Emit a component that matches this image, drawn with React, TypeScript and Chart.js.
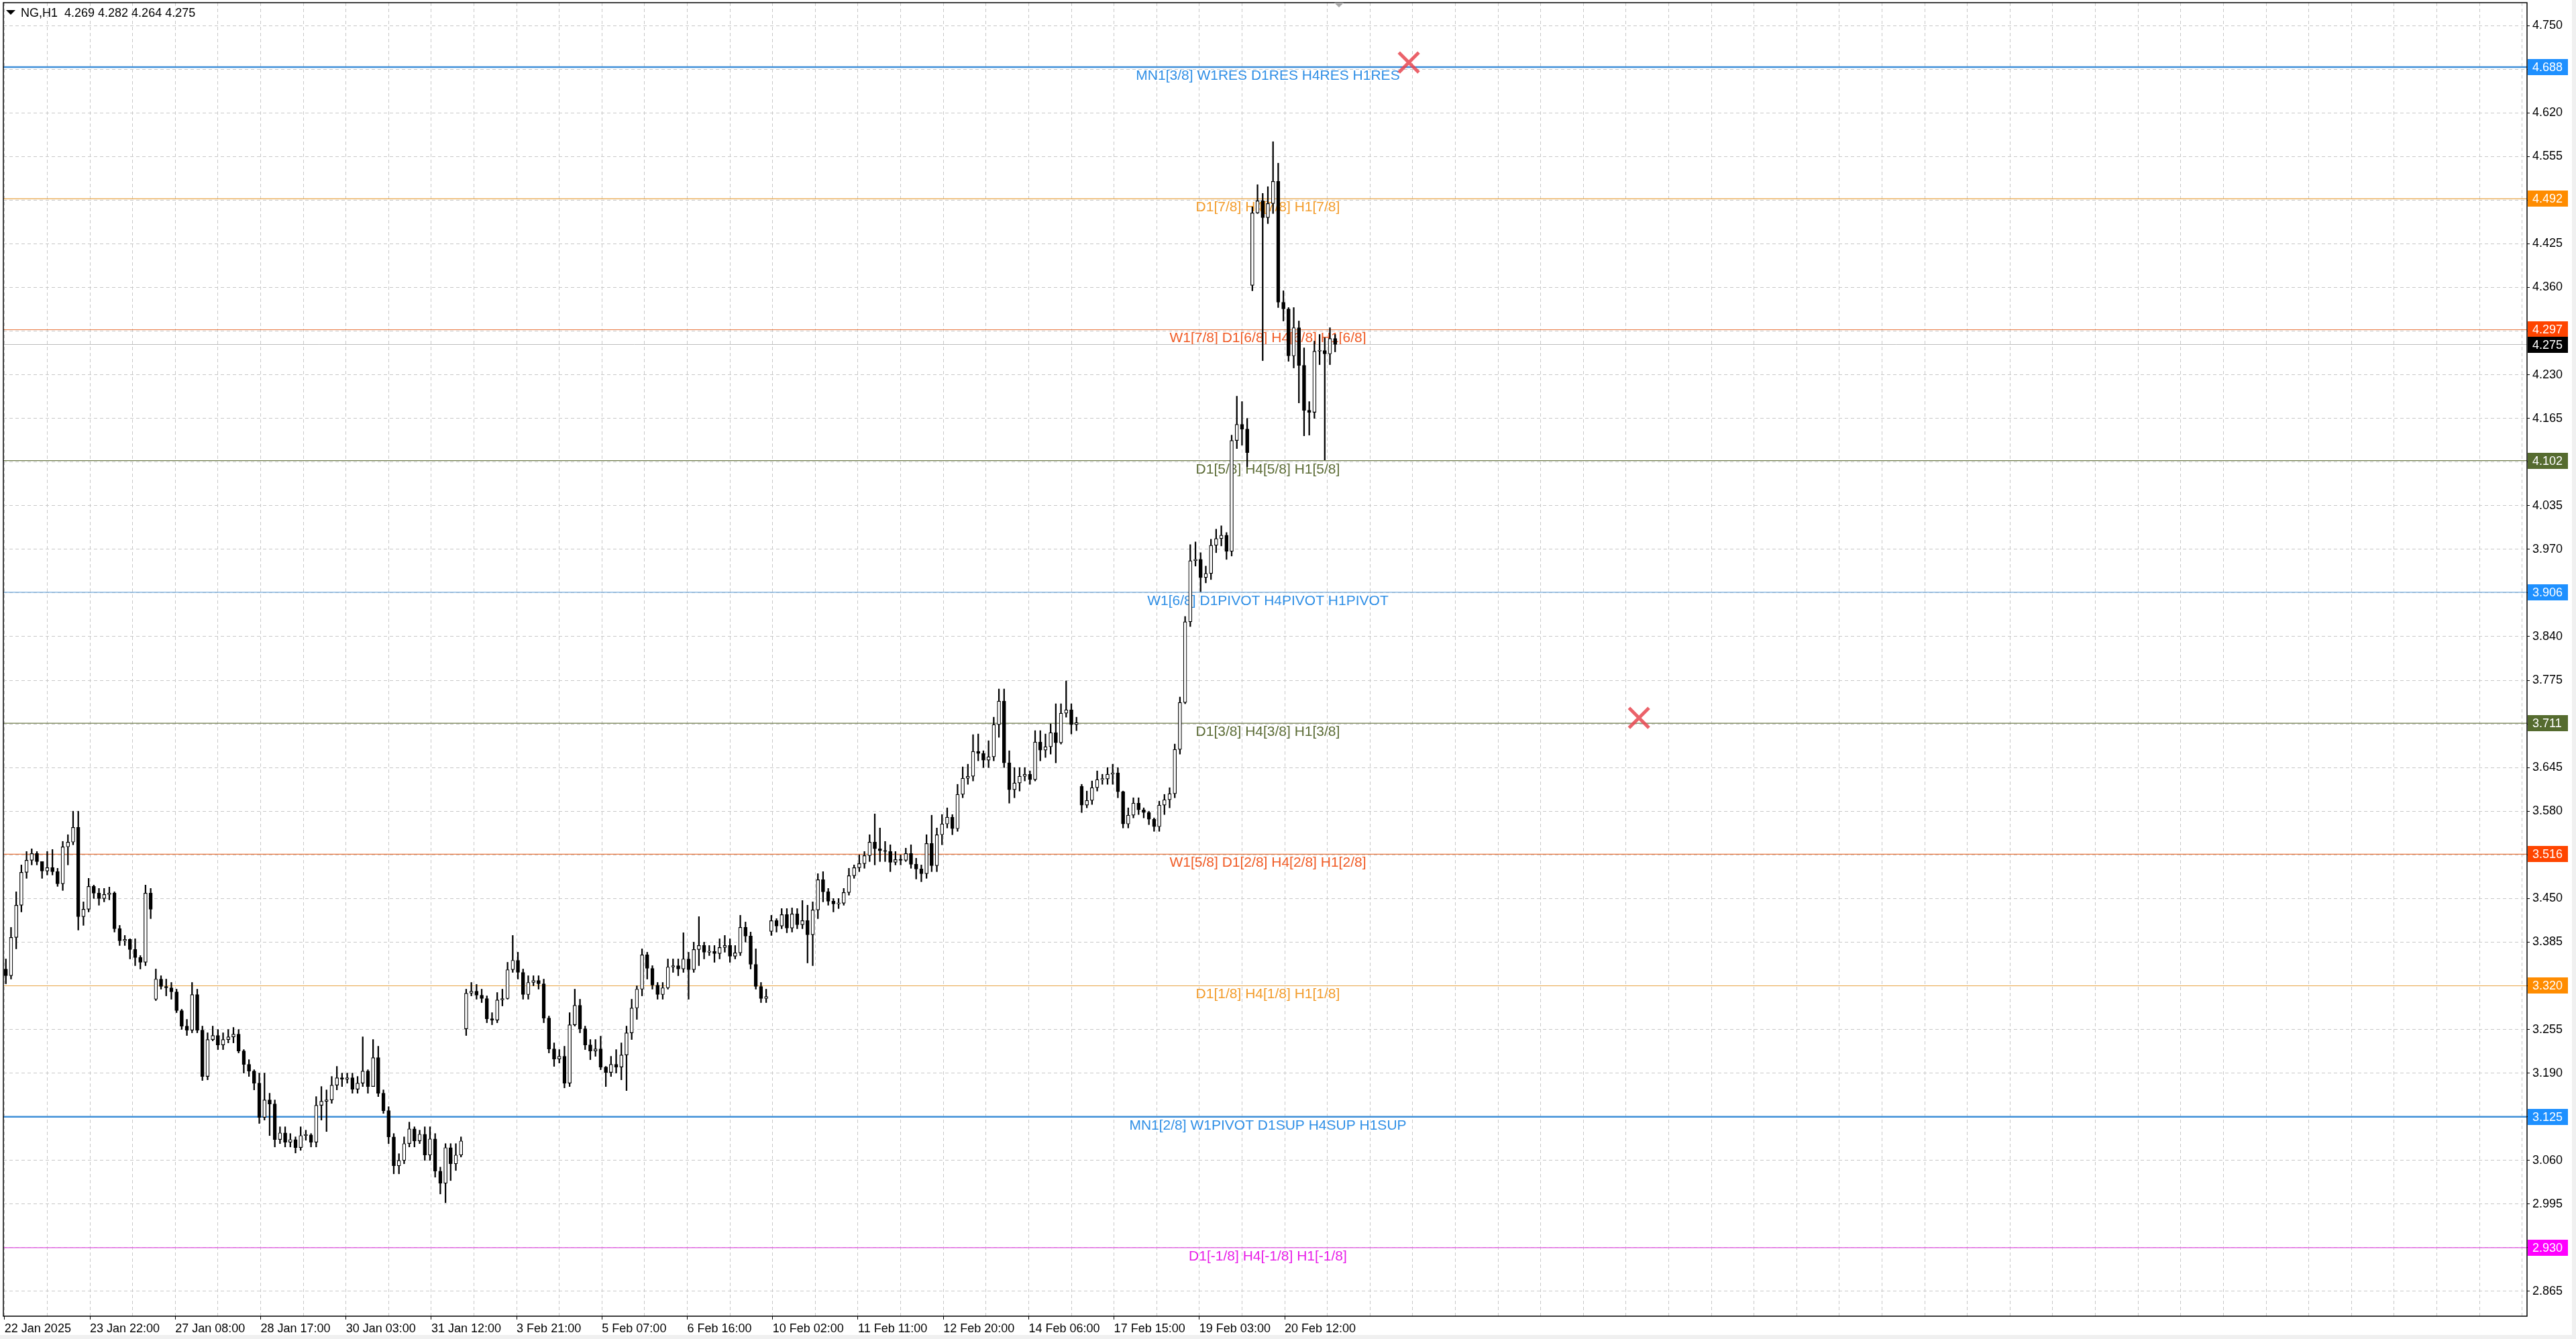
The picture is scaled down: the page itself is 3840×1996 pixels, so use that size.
import React, { useEffect, useRef } from "react";
import { Chart, registerables } from "chart.js";

Chart.register(...registerables);

// ---- Price data: 2-hour candles, NG H1 chart (22 Jan 2025 - 20 Feb 2025) ----
const opens = [
  3.345,3.335,3.392,3.440,3.489,3.507,3.517,3.505,3.491,3.496,
  3.490,3.472,3.527,3.534,3.556,3.423,3.434,3.468,3.458,3.450,
  3.456,3.458,3.405,3.387,3.389,3.374,3.362,3.355,3.458,3.300,
  3.330,3.319,3.317,3.311,3.283,3.260,3.254,3.307,3.254,3.185,
  3.240,3.246,3.232,3.240,3.244,3.248,3.223,3.203,3.193,3.175,
  3.124,3.150,3.144,3.091,3.101,3.087,3.091,3.079,3.097,3.098,
  3.087,3.142,3.148,3.150,3.172,3.183,3.181,3.183,3.166,3.175,
  3.193,3.170,3.213,3.160,3.134,3.095,3.052,3.060,3.085,3.107,
  3.089,3.099,3.068,3.092,3.044,3.026,3.079,3.055,3.068,3.256,
  3.309,3.312,3.306,3.301,3.271,3.269,3.299,3.301,3.344,3.358,
  3.340,3.307,3.325,3.328,3.323,3.272,3.226,3.211,3.215,3.175,
  3.262,3.291,3.256,3.232,3.223,3.226,3.199,3.191,3.203,3.199,
  3.217,3.250,3.287,3.315,3.366,3.346,3.321,3.307,3.317,3.348,
  3.350,3.345,3.360,3.344,3.374,3.380,3.370,3.371,3.368,3.377,
  3.380,3.364,3.369,3.407,3.394,3.352,3.319,3.301,3.401,3.417,
  3.409,3.426,3.406,3.427,3.411,3.417,3.396,3.433,3.478,3.460,
  3.446,3.442,3.443,3.459,3.484,3.496,3.502,3.514,3.534,3.524,
  3.521,3.520,3.504,3.508,3.507,3.517,3.501,3.494,3.487,3.532,
  3.499,3.545,3.561,3.571,3.554,3.605,3.629,3.632,3.669,3.666,
  3.656,3.661,3.709,3.744,3.652,3.612,3.622,3.632,3.635,3.627,
  3.683,3.671,3.676,3.697,3.682,3.726,3.731,3.709,3.617,3.589,
  3.596,3.615,3.627,3.628,3.635,3.637,3.609,3.561,3.574,3.592,
  3.582,3.578,3.568,3.557,3.589,3.597,3.606,3.672,3.742,3.862,
  3.953,3.955,3.928,3.934,3.976,3.986,3.991,3.967,4.132,4.156,
  4.149,4.363,4.471,4.489,4.464,4.485,4.518,4.338,4.328,4.258,
  4.300,4.244,4.177,4.174,4.265,4.266,4.261,4.284,
];
const highs = [
  3.360,3.407,3.460,3.500,3.520,3.524,3.520,3.505,3.520,3.523,
  3.495,3.535,3.545,3.580,3.580,3.445,3.480,3.470,3.465,3.465,
  3.467,3.460,3.410,3.395,3.390,3.390,3.365,3.470,3.465,3.345,
  3.335,3.330,3.325,3.315,3.285,3.270,3.325,3.315,3.260,3.250,
  3.260,3.255,3.250,3.255,3.258,3.255,3.225,3.210,3.195,3.190,
  3.190,3.160,3.150,3.110,3.110,3.100,3.095,3.110,3.105,3.100,
  3.155,3.170,3.165,3.185,3.200,3.190,3.190,3.190,3.185,3.244,
  3.195,3.240,3.230,3.165,3.140,3.100,3.070,3.095,3.117,3.110,
  3.105,3.110,3.110,3.100,3.050,3.085,3.085,3.085,3.095,3.315,
  3.325,3.322,3.315,3.305,3.280,3.310,3.315,3.355,3.395,3.370,
  3.345,3.335,3.335,3.335,3.330,3.275,3.235,3.225,3.230,3.280,
  3.315,3.300,3.260,3.240,3.240,3.245,3.200,3.215,3.225,3.235,
  3.260,3.300,3.320,3.375,3.370,3.350,3.325,3.325,3.360,3.360,
  3.360,3.399,3.370,3.385,3.423,3.385,3.380,3.380,3.390,3.395,
  3.390,3.380,3.425,3.415,3.400,3.375,3.325,3.315,3.425,3.420,
  3.435,3.435,3.436,3.435,3.447,3.440,3.445,3.487,3.490,3.465,
  3.450,3.450,3.465,3.495,3.500,3.515,3.520,3.545,3.576,3.555,
  3.535,3.530,3.520,3.515,3.525,3.530,3.510,3.500,3.545,3.574,
  3.555,3.575,3.585,3.575,3.620,3.646,3.650,3.694,3.695,3.670,
  3.685,3.720,3.762,3.762,3.670,3.645,3.645,3.645,3.640,3.700,
  3.700,3.695,3.710,3.740,3.740,3.774,3.740,3.720,3.620,3.610,
  3.625,3.640,3.635,3.645,3.650,3.645,3.610,3.585,3.600,3.600,
  3.585,3.580,3.570,3.595,3.605,3.615,3.680,3.750,3.870,3.977,
  3.981,3.965,3.945,3.985,4.000,4.005,3.995,4.140,4.198,4.190,
  4.165,4.480,4.513,4.500,4.510,4.577,4.545,4.355,4.330,4.330,
  4.310,4.270,4.190,4.280,4.290,4.285,4.300,4.290,
];
const lows = [
  3.323,3.330,3.375,3.430,3.480,3.500,3.500,3.480,3.485,3.485,
  3.468,3.462,3.500,3.530,3.403,3.410,3.430,3.450,3.440,3.445,
  3.448,3.400,3.380,3.380,3.360,3.350,3.345,3.350,3.420,3.298,
  3.315,3.305,3.300,3.280,3.255,3.246,3.250,3.250,3.179,3.180,
  3.238,3.225,3.225,3.235,3.235,3.220,3.190,3.185,3.165,3.115,
  3.120,3.097,3.080,3.085,3.080,3.080,3.071,3.075,3.090,3.080,
  3.080,3.120,3.103,3.145,3.165,3.170,3.175,3.160,3.160,3.170,
  3.160,3.170,3.155,3.130,3.085,3.040,3.040,3.055,3.080,3.080,
  3.085,3.060,3.060,3.035,3.010,2.997,3.030,3.045,3.065,3.246,
  3.305,3.300,3.295,3.265,3.262,3.265,3.290,3.300,3.340,3.330,
  3.300,3.300,3.320,3.315,3.265,3.220,3.200,3.205,3.168,3.170,
  3.260,3.250,3.225,3.210,3.215,3.195,3.170,3.185,3.190,3.180,
  3.164,3.240,3.270,3.305,3.330,3.315,3.300,3.300,3.315,3.340,
  3.335,3.340,3.300,3.340,3.350,3.360,3.365,3.355,3.360,3.370,
  3.355,3.360,3.365,3.385,3.345,3.315,3.295,3.295,3.395,3.400,
  3.405,3.399,3.400,3.405,3.405,3.354,3.350,3.420,3.445,3.440,
  3.430,3.435,3.440,3.455,3.480,3.490,3.495,3.505,3.500,3.505,
  3.505,3.490,3.500,3.500,3.505,3.495,3.479,3.475,3.480,3.490,
  3.490,3.530,3.555,3.545,3.550,3.600,3.620,3.625,3.655,3.645,
  3.645,3.655,3.690,3.645,3.592,3.600,3.610,3.625,3.620,3.625,
  3.655,3.660,3.665,3.652,3.680,3.720,3.695,3.700,3.578,3.585,
  3.590,3.610,3.620,3.620,3.620,3.600,3.555,3.555,3.570,3.575,
  3.570,3.560,3.550,3.550,3.575,3.585,3.600,3.665,3.740,3.855,
  3.945,3.907,3.920,3.925,3.965,3.975,3.955,3.960,4.120,4.125,
  4.093,4.355,4.470,4.251,4.455,4.470,4.330,4.310,4.250,4.240,
  4.188,4.139,4.140,4.165,4.245,4.103,4.245,4.264,
];
const closes = [
  3.335,3.392,3.440,3.489,3.507,3.517,3.505,3.491,3.496,3.490,
  3.472,3.527,3.534,3.556,3.423,3.434,3.468,3.458,3.450,3.456,
  3.458,3.405,3.387,3.389,3.374,3.362,3.355,3.458,3.434,3.330,
  3.319,3.317,3.311,3.283,3.260,3.254,3.307,3.254,3.185,3.240,
  3.246,3.232,3.240,3.244,3.248,3.223,3.203,3.193,3.175,3.124,
  3.150,3.144,3.091,3.101,3.087,3.091,3.079,3.097,3.098,3.087,
  3.142,3.148,3.150,3.172,3.183,3.181,3.183,3.166,3.175,3.193,
  3.170,3.213,3.160,3.134,3.095,3.052,3.060,3.085,3.107,3.089,
  3.099,3.068,3.092,3.044,3.026,3.079,3.055,3.068,3.089,3.309,
  3.312,3.306,3.301,3.271,3.269,3.299,3.301,3.344,3.358,3.340,
  3.307,3.325,3.328,3.323,3.272,3.226,3.211,3.215,3.175,3.262,
  3.291,3.256,3.232,3.223,3.226,3.199,3.191,3.203,3.199,3.217,
  3.250,3.287,3.315,3.366,3.346,3.321,3.307,3.317,3.348,3.350,
  3.345,3.360,3.344,3.374,3.380,3.370,3.371,3.368,3.377,3.380,
  3.364,3.369,3.407,3.394,3.352,3.319,3.301,3.304,3.417,3.409,
  3.426,3.406,3.427,3.411,3.417,3.396,3.433,3.478,3.460,3.446,
  3.442,3.443,3.459,3.484,3.496,3.502,3.514,3.534,3.524,3.521,
  3.520,3.504,3.508,3.507,3.517,3.501,3.494,3.487,3.532,3.499,
  3.545,3.561,3.571,3.554,3.605,3.629,3.632,3.669,3.666,3.656,
  3.661,3.709,3.744,3.652,3.612,3.622,3.632,3.635,3.627,3.683,
  3.671,3.676,3.697,3.682,3.726,3.731,3.709,3.712,3.589,3.596,
  3.615,3.627,3.628,3.635,3.637,3.609,3.561,3.574,3.592,3.582,
  3.578,3.568,3.557,3.589,3.597,3.606,3.672,3.742,3.862,3.953,
  3.955,3.928,3.934,3.976,3.986,3.991,3.967,4.132,4.156,4.149,
  4.114,4.471,4.489,4.464,4.485,4.518,4.338,4.328,4.258,4.300,
  4.244,4.177,4.174,4.265,4.266,4.261,4.284,4.275,
];

const HOURS_PER_BAR = 2;

// ---- Axis labels ----
const xLabels = [
  "22 Jan 2025", "23 Jan 22:00", "27 Jan 08:00", "28 Jan 17:00", "30 Jan 03:00",
  "31 Jan 12:00", "3 Feb 21:00", "5 Feb 07:00", "6 Feb 16:00", "10 Feb 02:00",
  "11 Feb 11:00", "12 Feb 20:00", "14 Feb 06:00", "17 Feb 15:00", "19 Feb 03:00",
  "20 Feb 12:00",
];
const X_GRID_STEP_HOURS = 16.5; // label every 2 grid steps (33 hours)

const yTicks = [
  2.865, 2.930, 2.995, 3.060, 3.125, 3.190, 3.255, 3.320, 3.385, 3.450,
  3.515, 3.580, 3.645, 3.710, 3.775, 3.840, 3.905, 3.970, 4.035, 4.100,
  4.165, 4.230, 4.295, 4.360, 4.425, 4.490, 4.555, 4.620, 4.685, 4.750,
];

// ---- Murrey-style levels ----
const levelValues = [4.688, 4.492, 4.297, 4.102, 3.906, 3.711, 3.516, 3.320, 3.125, 2.930];
const levelLabels = [
  "MN1[3/8] W1RES D1RES H4RES H1RES",
  "D1[7/8] H4[7/8] H1[7/8]",
  "W1[7/8] D1[6/8] H4[6/8] H1[6/8]",
  "D1[5/8] H4[5/8] H1[5/8]",
  "W1[6/8] D1PIVOT H4PIVOT H1PIVOT",
  "D1[3/8] H4[3/8] H1[3/8]",
  "W1[5/8] D1[2/8] H4[2/8] H1[2/8]",
  "D1[1/8] H4[1/8] H1[1/8]",
  "MN1[2/8] W1PIVOT D1SUP H4SUP H1SUP",
  "D1[-1/8] H4[-1/8] H1[-1/8]",
];
const levelLineColors = ["#3f8fd8", "#e8a546", "#e8773f", "#6e7b4a", "#6fa8dc", "#6e7b4a", "#e8773f", "#e8a546", "#3f8fd8", "#e050e0"];
const levelLineWidths = [2.5, 1.2, 1.2, 1.2, 1.2, 1.2, 1.2, 1.2, 2.5, 1.2];
const levelTextColors = ["#2f8fe6", "#f39c2b", "#f05a24", "#5b6b35", "#2f8fe6", "#5b6b35", "#f05a24", "#f39c2b", "#2f8fe6", "#e81ee8"];
const levelBoxColors = ["#1e90ff", "#ff8c00", "#ff4500", "#556b2f", "#1e90ff", "#556b2f", "#ff4500", "#ff8c00", "#1e90ff", "#ff00ff"];

const currentPrice = 4.275;
const headerText = "NG,H1  4.269 4.282 4.264 4.275";

// ---- Marker crosses ----
const markerHours = [543, 632];
const markerPrices = [4.695, 3.719];

// ---- View ----
const X_MIN = -0.47;
const X_MAX = 975.4;
const Y_MIN = 2.828;
const Y_MAX = 4.784;
const LEVEL_LABEL_HOUR = 488.5;

const FONT = "'Liberation Sans', Arial, sans-serif";

const overlayPlugin = {
  id: "mtOverlay",
  beforeDraw(chart: any) {
    const { ctx, width, height } = chart;
    ctx.save();
    ctx.fillStyle = "#ffffff";
    ctx.fillRect(0, 0, width, height);
    ctx.fillStyle = "#f0f0f0";
    ctx.fillRect(3834, 0, width - 3834, height);
    ctx.fillRect(0, 1990, width, height - 1990);
    ctx.restore();
  },
  beforeDatasetsDraw(chart: any) {
    const { ctx, scales } = chart;
    const x = scales.x;
    const y = scales.y;
    ctx.save();
    ctx.font = `21px ${FONT}`;
    ctx.textAlign = "center";
    ctx.textBaseline = "alphabetic";
    const cx = x.getPixelForValue(LEVEL_LABEL_HOUR);
    levelValues.forEach((v, i) => {
      ctx.fillStyle = levelTextColors[i];
      ctx.fillText(levelLabels[i], cx, y.getPixelForValue(v) + 19);
    });
    ctx.restore();
  },
  afterDraw(chart: any) {
    const { ctx, chartArea: a, scales } = chart;
    const x = scales.x;
    const y = scales.y;
    ctx.save();
    // frame
    ctx.strokeStyle = "#000";
    ctx.lineWidth = 1.5;
    ctx.strokeRect(a.left, a.top, a.right - a.left, a.bottom - a.top);
    // price boxes on right axis
    ctx.font = `18px ${FONT}`;
    ctx.textAlign = "left";
    ctx.textBaseline = "middle";
    const drawBox = (v: number, bg: string) => {
      const py = Math.round(y.getPixelForValue(v));
      ctx.fillStyle = bg;
      ctx.fillRect(a.right + 1, py - 12, 60, 24);
      ctx.fillStyle = "#ffffff";
      ctx.fillText(v.toFixed(3), a.right + 8, py + 1);
    };
    levelValues.forEach((v, i) => drawBox(v, levelBoxColors[i]));
    drawBox(currentPrice, "#000000");
    // header
    ctx.fillStyle = "#000";
    ctx.beginPath();
    ctx.moveTo(9, 15);
    ctx.lineTo(23, 15);
    ctx.lineTo(16, 22);
    ctx.closePath();
    ctx.fill();
    ctx.font = `18px ${FONT}`;
    ctx.textBaseline = "alphabetic";
    ctx.fillText(headerText, 31, 25);
    // chart shift marker
    const sx = x.getPixelForValue(closes.length * HOURS_PER_BAR);
    ctx.fillStyle = "#a8a8a8";
    ctx.beginPath();
    ctx.moveTo(sx - 7, a.top);
    ctx.lineTo(sx + 7, a.top);
    ctx.lineTo(sx, a.top + 7);
    ctx.closePath();
    ctx.fill();
    ctx.restore();
  },
};

export default function App() {
  const canvasRef = useRef<HTMLCanvasElement | null>(null);

  useEffect(() => {
    document.body.style.margin = "0";
    const canvas = canvasRef.current;
    if (!canvas) return;

    const barX = (i: number) => i * HOURS_PER_BAR + HOURS_PER_BAR / 4;

    const gridHours: number[] = [];
    for (let h = 0; h <= X_MAX; h += X_GRID_STEP_HOURS) gridHours.push(h);

    const levelDatasets = levelValues.map((v, i) => ({
      type: "line",
      data: [{ x: X_MIN, y: v }, { x: X_MAX, y: v }],
      borderColor: levelLineColors[i],
      borderWidth: levelLineWidths[i],
      pointRadius: 0,
      order: 10,
    }));

    const priceLine = {
      type: "line",
      data: [{ x: X_MIN, y: currentPrice }, { x: X_MAX, y: currentPrice }],
      borderColor: "#bdbdbd",
      borderWidth: 1,
      pointRadius: 0,
      order: 9,
    };

    const wicks = {
      type: "bar",
      data: closes.map((_, i) => ({ x: barX(i), y: [lows[i], highs[i]] })),
      backgroundColor: "#000000",
      borderWidth: 0,
      barThickness: 1.6,
      grouped: false,
      order: 3,
    };

    const bodies = {
      type: "bar",
      data: closes.map((c, i) => ({ x: barX(i), y: [opens[i], c] })),
      backgroundColor: closes.map((c, i) => (c >= opens[i] ? "#ffffff" : "#000000")),
      borderColor: "#000000",
      borderWidth: 1.2,
      borderSkipped: false,
      barThickness: 5,
      minBarLength: 1.5,
      grouped: false,
      order: 2,
    };

    const markers = {
      type: "scatter",
      data: markerHours.map((h, i) => ({ x: h, y: markerPrices[i] })),
      pointStyle: "crossRot",
      pointRadius: 21,
      pointBorderWidth: 5,
      pointBorderColor: "rgba(232,70,80,0.85)",
      pointBackgroundColor: "rgba(232,70,80,0.85)",
      borderColor: "rgba(232,70,80,0.85)",
      order: 0,
    };

    const chart = new Chart(canvas, {
      type: "bar",
      data: {
        datasets: [...levelDatasets, priceLine, wicks, bodies, markers] as any,
      },
      options: {
        animation: false,
        responsive: false,
        devicePixelRatio: 1,
        layout: { autoPadding: false, padding: { left: 5, top: 4, right: 0, bottom: 0 } },
        plugins: {
          legend: { display: false },
          tooltip: { enabled: false },
        },
        scales: {
          x: {
            type: "linear",
            min: X_MIN,
            max: X_MAX,
            offset: false,
            grid: {
              offset: false,
              color: "#c8c8c8",
              lineWidth: 1,
              tickLength: 5,
              tickColor: (ctx: any) =>
                ctx.index % 2 === 0 && ctx.index / 2 < xLabels.length ? "#000000" : "rgba(0,0,0,0)",
            },
            border: { display: false, dash: [5, 4] },
            ticks: {
              autoSkip: false,
              maxRotation: 0,
              minRotation: 0,
              align: "start",
              padding: 3,
              color: "#000000",
              font: { family: FONT, size: 18 },
              callback: (_v: any, index: number) =>
                index % 2 === 0 && index / 2 < xLabels.length ? xLabels[index / 2] : "",
            },
            afterBuildTicks: (scale: any) => {
              scale.ticks = gridHours.map((v) => ({ value: v }));
            },
            afterFit: (scale: any) => {
              scale.height = 34;
              scale.paddingLeft = 0;
              scale.paddingRight = 0;
              scale.paddingTop = 0;
              scale.paddingBottom = 0;
            },
          },
          y: {
            type: "linear",
            position: "right",
            min: Y_MIN,
            max: Y_MAX,
            beginAtZero: false,
            grid: { color: "#c8c8c8", lineWidth: 1, tickLength: 4, tickColor: "#000000" },
            border: { display: false, dash: [5, 4] },
            ticks: {
              autoSkip: false,
              padding: 4,
              color: "#000000",
              font: { family: FONT, size: 18 },
              callback: (v: any) => Number(v).toFixed(3),
            },
            afterBuildTicks: (scale: any) => {
              scale.ticks = yTicks.map((v) => ({ value: v }));
            },
            afterFit: (scale: any) => {
              scale.width = 73;
              scale.paddingLeft = 0;
              scale.paddingRight = 0;
              scale.paddingTop = 0;
              scale.paddingBottom = 0;
            },
          },
        },
      } as any,
      plugins: [overlayPlugin as any],
    });

    return () => chart.destroy();
  }, []);

  return (
    <div style={{ width: 3840, height: 1996, overflow: "hidden" }}>
      <canvas ref={canvasRef} width={3840} height={1996} style={{ display: "block" }} />
    </div>
  );
}
